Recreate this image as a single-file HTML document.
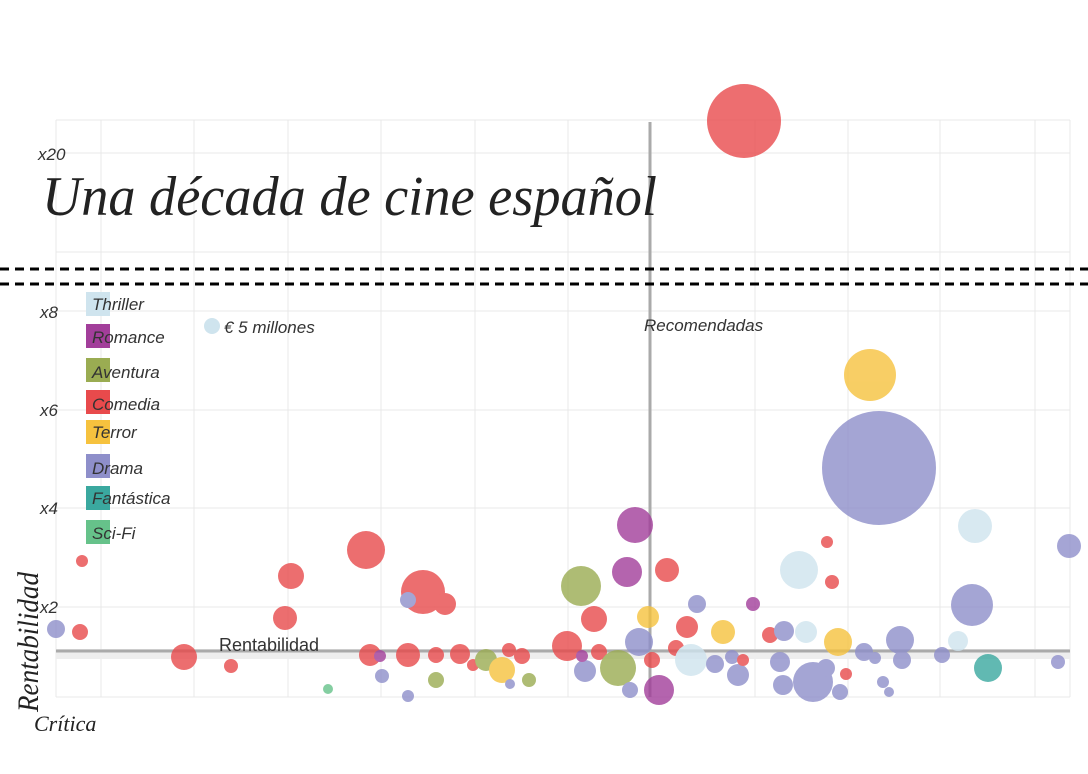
<!DOCTYPE html><html><head><meta charset="utf-8"><style>
body{margin:0;background:#fff;width:1088px;height:769px;overflow:hidden;font-family:"Liberation Sans",sans-serif}
</style></head><body>
<svg width="1088" height="769" xmlns="http://www.w3.org/2000/svg">
<g stroke="#e8e8e8" stroke-width="1">
<line x1="56" y1="120" x2="1070" y2="120"/><line x1="56" y1="153" x2="1070" y2="153"/><line x1="56" y1="252" x2="1070" y2="252"/><line x1="56" y1="311" x2="1070" y2="311"/><line x1="56" y1="410" x2="1070" y2="410"/><line x1="56" y1="508" x2="1070" y2="508"/><line x1="56" y1="607" x2="1070" y2="607"/><line x1="56" y1="697" x2="1070" y2="697"/>
<line x1="56" y1="120" x2="56" y2="697"/><line x1="101" y1="120" x2="101" y2="697"/><line x1="194" y1="120" x2="194" y2="697"/><line x1="288" y1="120" x2="288" y2="697"/><line x1="381" y1="120" x2="381" y2="697"/><line x1="475" y1="120" x2="475" y2="697"/><line x1="568" y1="120" x2="568" y2="697"/><line x1="755" y1="120" x2="755" y2="697"/><line x1="848" y1="120" x2="848" y2="697"/><line x1="940" y1="120" x2="940" y2="697"/><line x1="1035" y1="120" x2="1035" y2="697"/><line x1="1070" y1="120" x2="1070" y2="697"/>
</g>
<rect x="56" y="649" width="1014" height="10" fill="#eee"/>
<line x1="56" y1="651" x2="1070" y2="651" stroke="#aaa" stroke-width="3"/>
<line x1="650" y1="122" x2="650" y2="697" stroke="#aaa" stroke-width="3"/>
<g opacity="0.8">
<circle cx="744" cy="121" r="37" fill="#e84a4c"/>
<circle cx="870" cy="375" r="26" fill="#f6c23e"/>
<circle cx="879" cy="468" r="57" fill="#8e8fca"/>
<circle cx="975" cy="526" r="17" fill="#cfe4ee"/>
<circle cx="1069" cy="546" r="12" fill="#8e8fca"/>
<circle cx="799" cy="570" r="19" fill="#cfe4ee"/>
<circle cx="972" cy="605" r="21" fill="#8e8fca"/>
<circle cx="827" cy="542" r="6" fill="#e84a4c"/><circle cx="832" cy="582" r="7" fill="#e84a4c"/>
<circle cx="635" cy="525" r="18" fill="#a23e9a"/>
<circle cx="627" cy="572" r="15" fill="#a23e9a"/>
<circle cx="667" cy="570" r="12" fill="#e84a4c"/>
<circle cx="581" cy="586" r="20" fill="#9aac52"/>
<circle cx="594" cy="619" r="13" fill="#e84a4c"/>
<circle cx="567" cy="646" r="15" fill="#e84a4c"/>
<circle cx="366" cy="550" r="19" fill="#e84a4c"/>
<circle cx="291" cy="576" r="13" fill="#e84a4c"/>
<circle cx="423" cy="592" r="22" fill="#e84a4c"/>
<circle cx="445" cy="604" r="11" fill="#e84a4c"/>
<circle cx="408" cy="600" r="8" fill="#8e8fca"/>
<circle cx="285" cy="618" r="12" fill="#e84a4c"/>
<circle cx="82" cy="561" r="6" fill="#e84a4c"/>
<circle cx="56" cy="629" r="9" fill="#8e8fca"/><circle cx="80" cy="632" r="8" fill="#e84a4c"/>
<circle cx="184" cy="657" r="13" fill="#e84a4c"/>
<circle cx="231" cy="666" r="7" fill="#e84a4c"/>
<circle cx="328" cy="689" r="5" fill="#66c28a"/>
<circle cx="370" cy="655" r="11" fill="#e84a4c"/><circle cx="380" cy="656" r="6" fill="#a23e9a"/>
<circle cx="382" cy="676" r="7" fill="#8e8fca"/>
<circle cx="408" cy="655" r="12" fill="#e84a4c"/><circle cx="436" cy="655" r="8" fill="#e84a4c"/>
<circle cx="436" cy="680" r="8" fill="#9aac52"/><circle cx="408" cy="696" r="6" fill="#8e8fca"/>
<circle cx="460" cy="654" r="10" fill="#e84a4c"/><circle cx="473" cy="665" r="6" fill="#e84a4c"/>
<circle cx="486" cy="660" r="11" fill="#9aac52"/><circle cx="502" cy="670" r="13" fill="#f6c23e"/>
<circle cx="509" cy="650" r="7" fill="#e84a4c"/><circle cx="522" cy="656" r="8" fill="#e84a4c"/>
<circle cx="529" cy="680" r="7" fill="#9aac52"/><circle cx="510" cy="684" r="5" fill="#8e8fca"/>
<circle cx="585" cy="671" r="11" fill="#8e8fca"/><circle cx="582" cy="656" r="6" fill="#a23e9a"/>
<circle cx="599" cy="652" r="8" fill="#e84a4c"/><circle cx="618" cy="668" r="18" fill="#9aac52"/>
<circle cx="639" cy="642" r="14" fill="#8e8fca"/><circle cx="648" cy="617" r="11" fill="#f6c23e"/>
<circle cx="659" cy="690" r="15" fill="#a23e9a"/><circle cx="630" cy="690" r="8" fill="#8e8fca"/>
<circle cx="652" cy="660" r="8" fill="#e84a4c"/><circle cx="676" cy="648" r="8" fill="#e84a4c"/>
<circle cx="687" cy="627" r="11" fill="#e84a4c"/><circle cx="697" cy="604" r="9" fill="#8e8fca"/>
<circle cx="691" cy="660" r="16" fill="#cfe4ee"/><circle cx="715" cy="664" r="9" fill="#8e8fca"/>
<circle cx="723" cy="632" r="12" fill="#f6c23e"/><circle cx="732" cy="657" r="7" fill="#8e8fca"/>
<circle cx="738" cy="675" r="11" fill="#8e8fca"/><circle cx="743" cy="660" r="6" fill="#e84a4c"/>
<circle cx="753" cy="604" r="7" fill="#a23e9a"/><circle cx="770" cy="635" r="8" fill="#e84a4c"/>
<circle cx="784" cy="631" r="10" fill="#8e8fca"/><circle cx="806" cy="632" r="11" fill="#cfe4ee"/>
<circle cx="780" cy="662" r="10" fill="#8e8fca"/><circle cx="783" cy="685" r="10" fill="#8e8fca"/>
<circle cx="813" cy="682" r="20" fill="#8e8fca"/><circle cx="826" cy="668" r="9" fill="#8e8fca"/>
<circle cx="838" cy="642" r="14" fill="#f6c23e"/><circle cx="846" cy="674" r="6" fill="#e84a4c"/>
<circle cx="840" cy="692" r="8" fill="#8e8fca"/><circle cx="864" cy="652" r="9" fill="#8e8fca"/>
<circle cx="875" cy="658" r="6" fill="#8e8fca"/><circle cx="900" cy="640" r="14" fill="#8e8fca"/>
<circle cx="902" cy="660" r="9" fill="#8e8fca"/><circle cx="883" cy="682" r="6" fill="#8e8fca"/>
<circle cx="889" cy="692" r="5" fill="#8e8fca"/><circle cx="942" cy="655" r="8" fill="#8e8fca"/>
<circle cx="958" cy="641" r="10" fill="#cfe4ee"/><circle cx="988" cy="668" r="14" fill="#3aa89f"/>
<circle cx="1058" cy="662" r="7" fill="#8e8fca"/>
</g>
<g stroke="#000" stroke-width="3" stroke-dasharray="9,6">
<line x1="0" y1="269" x2="1088" y2="269"/><line x1="0" y1="284" x2="1088" y2="284"/>
</g>
<g font-family="Liberation Sans,sans-serif" font-style="italic" font-size="17" fill="#333">
<text x="38" y="160">x20</text><text x="40" y="318">x8</text><text x="40" y="416">x6</text><text x="40" y="514">x4</text><text x="40" y="613">x2</text>
<text x="224" y="333">€ 5 millones</text>
<text x="644" y="331">Recomendadas</text>
<text x="219" y="651" font-style="normal" font-size="18">Rentabilidad</text>
</g>
<circle cx="212" cy="326" r="8" fill="#cfe4ee"/>
<text x="42" y="215" font-family="Liberation Serif,serif" font-style="italic" font-size="56" fill="#222" textLength="615" lengthAdjust="spacingAndGlyphs">Una década de cine español</text>
<text x="34" y="731" font-family="Liberation Serif,serif" font-style="italic" font-size="22" fill="#222">Crítica</text>
<text transform="translate(38,712) rotate(-90)" font-family="Liberation Serif,serif" font-style="italic" font-size="30" fill="#222" textLength="140" lengthAdjust="spacingAndGlyphs">Rentabilidad</text>
<g font-family="Liberation Sans,sans-serif" font-style="italic" font-size="17" fill="#333">
<rect x="86" y="292" width="24" height="24" fill="#cfe4ee"/><text x="92" y="310">Thriller</text>
<rect x="86" y="324" width="24" height="24" fill="#a23e9a"/><text x="92" y="343">Romance</text>
<rect x="86" y="358" width="24" height="24" fill="#9aac52"/><text x="92" y="378">Aventura</text>
<rect x="86" y="390" width="24" height="24" fill="#e84a4c"/><text x="92" y="410">Comedia</text>
<rect x="86" y="420" width="24" height="24" fill="#f6c23e"/><text x="92" y="438">Terror</text>
<rect x="86" y="454" width="24" height="24" fill="#8e8fca"/><text x="92" y="474">Drama</text>
<rect x="86" y="486" width="24" height="24" fill="#3aa89f"/><text x="92" y="504">Fantástica</text>
<rect x="86" y="520" width="24" height="24" fill="#66c28a"/><text x="92" y="539">Sci-Fi</text>
</g>
</svg>
</body></html>
